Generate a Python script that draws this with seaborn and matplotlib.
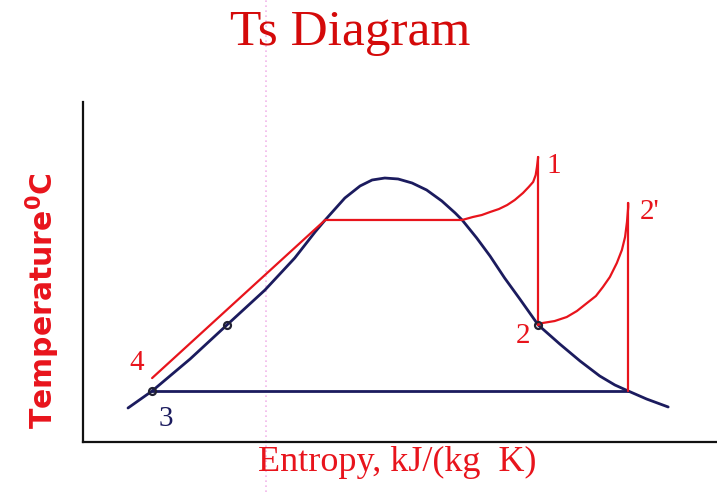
import numpy as np
import pandas as pd
import matplotlib
matplotlib.use("Agg")
import matplotlib.pyplot as plt
from matplotlib.transforms import blended_transform_factory
import seaborn as sns

# Saturation dome (entropy kJ/(kg K), temperature °C)
dome_s = [0.71, 1.09, 1.69, 2.27, 2.87, 3.34, 3.66, 3.82, 4.13, 4.37, 4.56,
          4.76, 4.97, 5.19, 5.42, 5.66, 5.87, 5.98, 6.21, 6.42, 6.65, 6.89,
          7.18, 7.52, 7.84, 8.15, 8.39, 8.60, 8.89, 9.23]
dome_T = [50.0, 75.0, 122.1, 172.1, 223.5, 270.6, 308.8, 326.5, 358.8, 376.5,
          385.3, 388.2, 386.8, 380.9, 370.6, 354.4, 336.8, 326.5, 300.0, 273.5,
          241.2, 210.3, 172.1, 144.1, 119.1, 97.1, 83.8, 75.0, 63.2, 51.5]

# Liquid heating 4 -> saturated liquid, then boiling at constant temperature
heat_s = [1.09, 3.82, 5.98]
heat_T = [94.0, 326.5, 326.5]

# Superheating up to state 1
sup1_s = [5.98, 6.15, 6.29, 6.42, 6.56, 6.69, 6.81, 6.94, 7.03, 7.10, 7.14,
          7.16, 7.18]
sup1_T = [326.5, 330.9, 333.8, 338.2, 342.6, 348.5, 355.9, 366.2, 375.0,
          382.4, 392.6, 404.4, 419.1]

# Isentropic expansion 1 -> 2
exp1_s = [7.18, 7.18]
exp1_T = [419.1, 172.1]

# Reheat 2 -> 2'
reheat_s = [7.18, 7.25, 7.44, 7.63, 7.79, 7.95, 8.09, 8.20, 8.31, 8.42, 8.50,
            8.55, 8.58, 8.60, 8.60]
reheat_T = [172.1, 175.0, 177.9, 183.8, 192.6, 204.4, 214.7, 227.9, 242.6,
            263.2, 282.4, 301.5, 323.5, 345.6, 351.5]

# Expansion 2' -> condenser pressure
exp2_s = [8.60, 8.60]
exp2_T = [351.5, 75.0]

# Condensation line
cond_s = [1.09, 8.60]
cond_T = [75.0, 75.0]

# Marked states on the dome
mark_s = [1.09, 2.27, 7.18]
mark_T = [75.0, 172.1, 172.1]

# State labels
state_names = ["4", "3", "1", "2'", "2"]
state_s = [0.85, 1.31, 7.43, 8.94, 6.94]
state_T = [116.0, 34.0, 406.0, 338.0, 156.0]

RED = "#e8141c"
NAVY = "#1b1b5e"
TITLE_RED = "#d40a0a"

sns.set_theme(style="white")
plt.rcParams["font.family"] = ["DejaVu Sans"]
plt.rcParams["mathtext.fontset"] = "dejavusans"

fig = plt.figure(figsize=(7.17, 4.92), dpi=100)
ax = fig.add_axes([83 / 717, 50 / 492, 634 / 717, 340 / 492])

def line(s, T, color, lw):
    df = pd.DataFrame({"s": s, "T": T})
    sns.lineplot(data=df, x="s", y="T", ax=ax, color=color, lw=lw,
                 sort=False, estimator=None)

line(dome_s, dome_T, NAVY, 2.0)
line(cond_s, cond_T, NAVY, 2.0)
line(heat_s, heat_T, RED, 1.6)
line(sup1_s, sup1_T, RED, 1.6)
line(exp1_s, exp1_T, RED, 1.6)
line(reheat_s, reheat_T, RED, 1.6)
line(exp2_s, exp2_T, RED, 1.6)

ax.plot(mark_s, mark_T, ls="none", marker="o", ms=5, mfc="none",
        mec="#222233", mew=1.6)

for name, s, T in zip(state_names, state_s, state_T):
    ax.text(s, T, name, ha="center", va="center", fontsize=21,
            family="Liberation Serif",
            color=NAVY if name == "3" else RED)

# Faint dotted guide line across the whole figure
trans = blended_transform_factory(ax.transData, fig.transFigure)
ax.plot([2.886, 2.886], [0, 1], transform=trans, color="#f2b6ea", lw=1.2,
        ls=(0, (1, 2)), clip_on=False, zorder=0)

ax.set_xlim(0, 10)
ax.set_ylim(0, 500)
ax.set_xticks([])
ax.set_yticks([])
ax.set_xlabel("")
ax.set_ylabel("")
for side in ["top", "right"]:
    ax.spines[side].set_visible(False)
for side in ["left", "bottom"]:
    ax.spines[side].set_color("#111111")
    ax.spines[side].set_linewidth(1.6)
ax.patch.set_alpha(0)

fig.text(0.488, 0.933, "Ts Diagram", ha="center", va="center",
         fontsize=37, family="Liberation Serif", color=TITLE_RED)
fig.text(0.554, 0.061, "Entropy, kJ/(kg  K)", ha="center", va="center",
         fontsize=26, family="Liberation Serif", color=RED)
fig.text(0.060, 0.388, r"Temperature$^{\mathbf{0}}$C", ha="center",
         va="center", rotation=90, fontsize=21.5, fontweight="bold",
         family="DejaVu Sans", color=RED)

fig.savefig("out.png", dpi=100)
